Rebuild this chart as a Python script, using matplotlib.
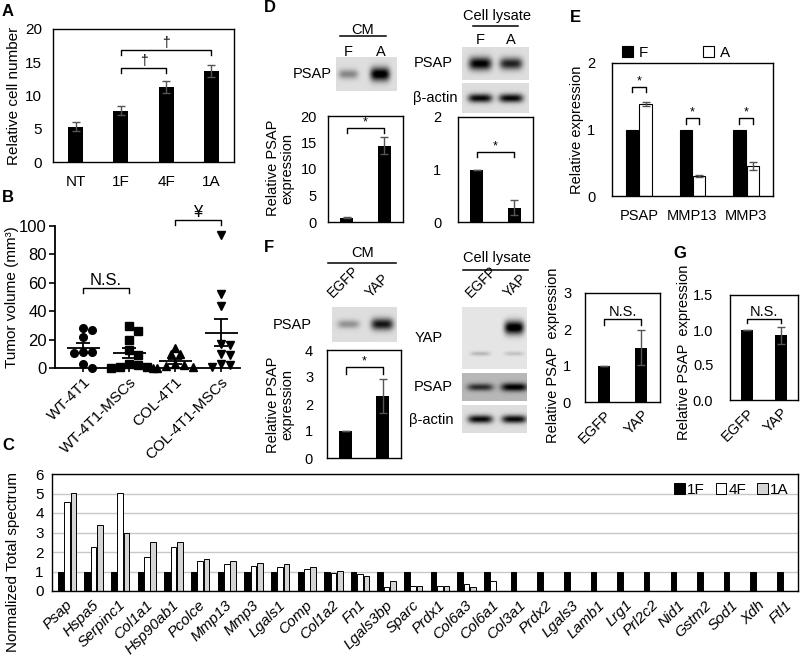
import numpy as np
import matplotlib
matplotlib.use('Agg')
import matplotlib.pyplot as plt
from matplotlib.lines import Line2D
from matplotlib.patches import Patch

plt.rcParams['font.family'] = ['Liberation Sans', 'DejaVu Sans']
plt.rcParams['font.size'] = 10

# ---------------- data ----------------
A_cats = ['NT', '1F', '4F', '1A']
A_vals = [5.3, 7.7, 11.3, 13.7]
A_err = [0.65, 0.65, 0.9, 0.85]

B_groups = ['WT-4T1', 'WT-4T1-MSCs', 'COL-4T1', 'COL-4T1-MSCs']
B_wt = [28, 27, 22, 11.5, 11, 10.5, 2.5, 0.3]
B_wt_msc = [29.5, 26, 20, 13, 9.5, 3, 2, 1, 0.5, 0.3]
B_col = [14, 10, 10, 3, 2, 1.5, 0.5, 0.3, 0.2]
B_col_msc = [94, 52, 44, 17, 16, 10, 9, 3, 2, 0.5]

C_genes = ['Psap', 'Hspa5', 'Serpinc1', 'Col1a1', 'Hsp90ab1', 'Pcolce', 'Mmp13', 'Mmp3',
           'Lgals1', 'Comp', 'Col1a2', 'Fn1', 'Lgals3bp', 'Sparc', 'Prdx1', 'Col6a3',
           'Col6a1', 'Col3a1', 'Prdx2', 'Lgals3', 'Lamb1', 'Lrg1', 'Prl2c2', 'Nid1',
           'Gstm2', 'Sod1', 'Xdh', 'Ftl1']
C_1F = [1, 1, 1, 1, 1, 1, 1, 1, 1, 1, 1, 1, 1, 1, 1, 1, 1, 1, 1, 1, 1, 1, 1, 1, 1, 1, 1, 1]
C_4F = [4.56, 2.28, 5.03, 1.72, 2.28, 1.54, 1.41, 1.3, 1.22, 1.15, 0.91, 0.86, 0.22, 0.26,
        0.24, 0.34, 0.5, 0, 0, 0, 0, 0, 0, 0, 0, 0, 0, 0]
C_1A = [5.03, 3.36, 3.0, 2.5, 2.5, 1.66, 1.54, 1.42, 1.36, 1.25, 1.01, 0.75, 0.51, 0.26,
        0.24, 0.2, 0, 0, 0, 0, 0, 0, 0, 0, 0, 0, 0, 0]

D_cats = ['F', 'A']
D_cm_vals = [0.82, 14.4]
D_cm_err = [0.05, 1.6]
D_lys_vals = [1.0, 0.27]
D_lys_err = [0.0, 0.14]

E_genes = ['PSAP', 'MMP13', 'MMP3']
E_F = [1.0, 1.0, 1.0]
E_F_err = [0.0, 0.0, 0.0]
E_A = [1.38, 0.3, 0.45]
E_A_err = [0.03, 0.01, 0.06]

F_cats = ['EGFP', 'YAP']
F_cm_vals = [1.0, 2.29]
F_cm_err = [0.0, 0.63]
F_lys_vals = [1.0, 1.5]
F_lys_err = [0.0, 0.47]
G_vals = [1.0, 0.925]
G_err = [0.0, 0.12]

# western blot band intensities (0 = no band, 1 = strongest)
blot_D_cm_psap = [0.35, 0.95]
blot_D_lys_psap = [0.9, 0.75]
blot_D_lys_actin = [0.85, 0.85]
blot_F_cm_psap = [0.3, 0.8]
blot_F_lys_yap = [0.0, 1.0]
blot_F_lys_yap_low = [0.18, 0.14]
blot_F_lys_psap = [0.55, 0.75]
blot_F_lys_actin = [0.85, 0.85]

# ---------------- figure ----------------
W, H = 800, 657
fig = plt.figure(figsize=(W / 100, H / 100), dpi=100)


def ax_px(x0, y0, x1, y1):
    return fig.add_axes([x0 / W, 1 - y1 / H, (x1 - x0) / W, (y1 - y0) / H])


def ftext(x, y, s, **kw):
    return fig.text(x / W, 1 - y / H, s, **kw)


def fline(x0, x1, y):
    fig.add_artist(Line2D([x0 / W, x1 / W], [1 - y / H, 1 - y / H], color='black', lw=1.1,
                          transform=fig.transFigure))


def box(ax, pad=6, fs=10):
    for s in ax.spines.values():
        s.set_linewidth(1.0)
        s.set_color('black')
    ax.tick_params(axis='both', length=0, labelsize=fs)
    ax.tick_params(axis='y', pad=pad)


def bracket(ax, x0, x1, y, drop, text, fs=9, clip=False):
    ax.plot([x0, x0, x1, x1], [y - drop, y, y, y - drop], color='black', lw=1, clip_on=clip)
    ax.text((x0 + x1) / 2, y, text, ha='center', va='bottom', fontsize=fs, clip_on=clip)


ekw = dict(ecolor='#555555', capsize=3, elinewidth=1, capthick=1)


def panel_letter(x, y, s):
    ftext(x, y, s, fontsize=12, fontweight='bold', ha='left', va='center')


def blot(x0, y0, x1, y1, rows, bg=0.87, bw=0.17, band_x=(0.25, 0.75)):
    ax = ax_px(x0, y0, x1, y1)
    h = int((y1 - y0) * 3)
    w = int((x1 - x0) * 3)
    yy, xx = np.mgrid[0:h, 0:w]
    xx = xx / w
    yy = yy / h
    img = np.full((h, w), bg)
    for by, intens, bh in rows:
        for cx, a in zip(band_x, intens):
            prof = np.exp(-((xx - cx) / bw) ** 4) * np.exp(-((yy - by) / (bh * (0.6 + 0.6 * a))) ** 2)
            img = img - a * prof
    img = np.clip(img, 0, 1)
    ax.imshow(img, cmap='gray', vmin=0, vmax=1, aspect='auto', interpolation='bilinear',
              extent=[0, 1, 1, 0])
    ax.set_axis_off()
    return ax


# ---------------- A ----------------
panel_letter(2, 12, 'A')
axA = ax_px(53, 29, 234, 162)
axA.bar(range(len(A_cats)), A_vals, width=0.33, color='black', yerr=A_err, error_kw=ekw)
axA.set_xlim(-0.5, 3.5)
axA.set_ylim(0, 20)
axA.set_yticks([0, 5, 10, 15, 20])
axA.set_xticks(range(len(A_cats)))
axA.set_xticklabels(A_cats)
box(axA, pad=8, fs=11)
axA.tick_params(axis='x', pad=9)
bracket(axA, 1, 2, 14.1, 0.75, '†', fs=10)
bracket(axA, 1, 3, 16.85, 0.75, '†', fs=10)
ftext(14, 96, 'Relative cell number', rotation=90, ha='center', va='center', fontsize=11)

# ---------------- B ----------------
panel_letter(2, 198, 'B')
axB = ax_px(55, 226, 240, 368)
axB.set_xlim(-0.61, 3.41)
axB.set_ylim(0, 100)
for s in ['top', 'right']:
    axB.spines[s].set_visible(False)
axB.spines['left'].set_linewidth(1.3)
axB.spines['bottom'].set_linewidth(1.3)
axB.set_yticks([0, 20, 40, 60, 80, 100])
axB.set_xticks(range(4))
axB.set_xticklabels(B_groups, rotation=45, ha='right', rotation_mode='anchor')
axB.tick_params(axis='y', length=4, width=1.2, labelsize=12, pad=2)
axB.tick_params(axis='x', length=3, width=1.2, labelsize=11, pad=2)
ftext(12, 297, 'Tumor volume (mm³)', rotation=90, ha='center', va='center', fontsize=11)


def swarm(vals, px_y=1.42, cat_px=46.0, d=7.0):
    placed = []
    res = np.zeros(len(vals))
    for idx in np.argsort(vals)[::-1]:
        y = vals[idx] * px_y
        x = 0.0
        for k in [0, 1, -1, 2, -2, 3, -3, 4, -4, 5, -5]:
            x = k * 4.5
            if all((x - px) ** 2 + (y - py) ** 2 >= d ** 2 for px, py in placed):
                break
        placed.append((x, y))
        res[idx] = x / cat_px
    return res


for i, (vals, mk) in enumerate(zip([B_wt, B_wt_msc, B_col, B_col_msc], ['o', 's', '^', 'v'])):
    v = np.array(vals, dtype=float)
    off = swarm(v)
    axB.plot(i + off, v, linestyle='none', marker=mk, color='black', ms=5.5, clip_on=False)
    m = v.mean()
    sem = v.std(ddof=1) / np.sqrt(len(v))
    axB.hlines(m, i - 0.36, i + 0.36, color='black', lw=1.3, clip_on=False)
    axB.vlines(i, m - sem, m + sem, color='black', lw=1.3, clip_on=False)
    axB.hlines([m - sem, m + sem], i - 0.16, i + 0.16, color='black', lw=1.3, clip_on=False)
bracket(axB, 0, 1, 56.5, 4, 'N.S.', fs=12)
bracket(axB, 2, 3, 104.5, 4, '¥', fs=12)

# ---------------- C ----------------
panel_letter(2, 445, 'C')
axC = ax_px(52, 474, 798, 591)
xC = np.arange(len(C_genes))
axC.bar(xC - 0.18, C_1F, width=0.21, color='black', edgecolor='black', lw=0.7, label='1F')
axC.bar(xC + 0.06, C_4F, width=0.21, color='white', edgecolor='black', lw=0.7, label='4F')
axC.bar(xC + 0.30, C_1A, width=0.21, color='#d4d4d4', edgecolor='black', lw=0.7, label='1A')
axC.set_xlim(-0.5, len(C_genes) - 0.5)
axC.set_ylim(0, 6)
axC.set_yticks(range(7))
axC.yaxis.grid(True, color='#c8c8c8', lw=1)
axC.set_axisbelow(True)
axC.set_xticks(xC)
axC.set_xticklabels(C_genes, rotation=45, ha='right', rotation_mode='anchor', style='italic',
                    fontsize=10)
box(axC, pad=6, fs=11)
axC.tick_params(axis='x', pad=5)
axC.legend(loc='upper right', ncol=3, frameon=False, handlelength=0.7, handleheight=0.7,
           handletextpad=0.15, columnspacing=0.7, fontsize=11, borderaxespad=0.2,
           bbox_to_anchor=(1.0, 1.0))
ftext(13, 562, 'Normalized Total spectrum', rotation=90, ha='center', va='center', fontsize=11)

# ---------------- D ----------------
panel_letter(264, 8, 'D')
ftext(363, 30, 'CM', ha='center', va='center', fontsize=10.5)
fline(340, 386, 36)
ftext(348, 52, 'F', ha='center', va='center', fontsize=10.5)
ftext(381, 52, 'A', ha='center', va='center', fontsize=10.5)
blot(336, 57, 397, 91, [(0.5, blot_D_cm_psap, 0.17)], band_x=(0.2, 0.72), bw=0.16)
ftext(332, 74, 'PSAP', ha='right', va='center', fontsize=10.5)

ftext(497, 16, 'Cell lysate', ha='center', va='center', fontsize=10.5)
fline(473, 518, 26)
ftext(480, 40, 'F', ha='center', va='center', fontsize=10.5)
ftext(511, 40, 'A', ha='center', va='center', fontsize=10.5)
blot(462, 47, 529, 80, [(0.5, blot_D_lys_psap, 0.17)], band_x=(0.27, 0.73), bw=0.17)
blot(462, 83, 529, 113, [(0.5, blot_D_lys_actin, 0.13)], band_x=(0.27, 0.73), bw=0.18)
ftext(453, 63, 'PSAP', ha='right', va='center', fontsize=10.5)
ftext(457, 98, 'β-actin', ha='right', va='center', fontsize=10.5)

axD1 = ax_px(328, 116, 403, 222)
axD1.bar(range(2), D_cm_vals, width=0.35, color='black', yerr=D_cm_err, error_kw=ekw)
axD1.set_xlim(-0.5, 1.5)
axD1.set_ylim(0, 20)
axD1.set_yticks([0, 5, 10, 15, 20])
axD1.set_xticks([])
box(axD1, pad=8, fs=10.5)
bracket(axD1, 0, 1, 17.7, 0.9, '*')
ftext(280, 168, 'Relative PSAP\nexpression', rotation=90, ha='center', va='center',
      fontsize=10.5, multialignment='center', linespacing=1.0)

axD2 = ax_px(458, 117, 533, 222)
axD2.bar(range(2), D_lys_vals, width=0.35, color='black', yerr=D_lys_err, error_kw=ekw)
axD2.set_xlim(-0.5, 1.5)
axD2.set_ylim(0, 2)
axD2.set_yticks([0, 1, 2])
axD2.set_xticks([])
box(axD2, pad=12, fs=10.5)
bracket(axD2, 0, 1, 1.33, 0.09, '*')

# ---------------- E ----------------
panel_letter(570, 17, 'E')
axE = ax_px(612, 63, 773, 196)
xE = np.arange(len(E_genes))
axE.bar(xE - 0.125, E_F, width=0.23, color='black', edgecolor='black', lw=0.8, label='F')
axE.bar(xE + 0.125, E_A, width=0.23, color='white', edgecolor='black', lw=0.8, label='A',
        yerr=E_A_err, error_kw=ekw)
axE.set_xlim(-0.5, 2.5)
axE.set_ylim(0, 2)
axE.set_yticks([0, 1, 2])
axE.set_xticks(xE)
axE.set_xticklabels(E_genes)
box(axE, pad=12, fs=10.5)
axE.tick_params(axis='x', pad=9)
E_brk = [1.64, 1.17, 1.17]
for i in range(3):
    bracket(axE, i - 0.125, i + 0.125, E_brk[i], 0.08, '*')
axE.legend(loc='center', bbox_to_anchor=(0.40, 1.075), ncol=2, frameon=False,
           handlelength=0.7, handleheight=0.7, handletextpad=0.4, columnspacing=3.6,
           fontsize=11, borderaxespad=0)
ftext(577, 130, 'Relative expression', rotation=90, ha='center', va='center', fontsize=10.5)

# ---------------- F ----------------
panel_letter(264, 248, 'F')
ftext(363, 253, 'CM', ha='center', va='center', fontsize=10.5)
fline(328, 396, 263)
ftext(333, 298, 'EGFP', rotation=45, ha='left', va='baseline', rotation_mode='anchor', fontsize=10)
ftext(371, 298, 'YAP', rotation=45, ha='left', va='baseline', rotation_mode='anchor', fontsize=10)
blot(332, 307, 397, 342, [(0.5, blot_F_cm_psap, 0.15)], band_x=(0.25, 0.77), bw=0.17)
ftext(312, 325, 'PSAP', ha='right', va='center', fontsize=10.5)

ftext(497, 258, 'Cell lysate', ha='center', va='center', fontsize=10.5)
fline(463, 528, 270)
ftext(471, 298, 'EGFP', rotation=45, ha='left', va='baseline', rotation_mode='anchor', fontsize=10)
ftext(509, 298, 'YAP', rotation=45, ha='left', va='baseline', rotation_mode='anchor', fontsize=10)
blot(462, 307, 527, 369, [(0.33, blot_F_lys_yap, 0.09), (0.75, blot_F_lys_yap_low, 0.05)],
     band_x=(0.28, 0.8), bw=0.15, bg=0.9)
blot(462, 373, 527, 401, [(0.5, blot_F_lys_psap, 0.14)], band_x=(0.28, 0.8), bw=0.2, bg=0.72)
blot(462, 405, 527, 433, [(0.5, blot_F_lys_actin, 0.13)], band_x=(0.28, 0.8), bw=0.19)
ftext(443, 338, 'YAP', ha='right', va='center', fontsize=10.5)
ftext(453, 387, 'PSAP', ha='right', va='center', fontsize=10.5)
ftext(453, 420, 'β-actin', ha='right', va='center', fontsize=10.5)

axF1 = ax_px(327, 350, 401, 458)
axF1.bar(range(2), F_cm_vals, width=0.35, color='black', yerr=F_cm_err, error_kw=ekw)
axF1.set_xlim(-0.5, 1.5)
axF1.set_ylim(0, 4)
axF1.set_yticks([0, 1, 2, 3, 4])
axF1.set_xticks([])
box(axF1, pad=10, fs=10.5)
bracket(axF1, 0, 1, 3.37, 0.25, '*')
ftext(280, 405, 'Relative PSAP\nexpression', rotation=90, ha='center', va='center',
      fontsize=10.5, multialignment='center', linespacing=1.0)

axF2 = ax_px(585, 293, 660, 402)
axF2.bar(range(2), F_lys_vals, width=0.33, color='black', yerr=F_lys_err, error_kw=ekw)
axF2.set_xlim(-0.5, 1.5)
axF2.set_ylim(0, 3)
axF2.set_yticks([0, 1, 2, 3])
axF2.set_xticks(range(2))
axF2.set_xticklabels(F_cats, rotation=45, ha='right', rotation_mode='anchor')
box(axF2, pad=10, fs=10.5)
axF2.tick_params(axis='x', pad=4)
bracket(axF2, 0, 1, 2.28, 0.16, 'N.S.', fs=10.5)
ftext(553, 355, 'Relative PSAP  expression', rotation=90, ha='center', va='center', fontsize=10.5)

# ---------------- G ----------------
panel_letter(673, 253, 'G')
axG = ax_px(730, 295, 798, 400)
axG.bar(range(2), G_vals, width=0.36, color='black', yerr=G_err, error_kw=ekw)
axG.set_xlim(-0.5, 1.5)
axG.set_ylim(0, 1.5)
axG.set_yticks([0, 0.5, 1.0, 1.5])
axG.set_yticklabels(['0.0', '0.5', '1.0', '1.5'])
axG.set_xticks(range(2))
axG.set_xticklabels(F_cats, rotation=45, ha='right', rotation_mode='anchor')
box(axG, pad=12, fs=10.5)
axG.tick_params(axis='x', pad=4)
bracket(axG, 0, 1, 1.16, 0.06, 'N.S.', fs=10.5)
ftext(684, 352, 'Relative PSAP  expression', rotation=90, ha='center', va='center', fontsize=10.5)

fig.savefig('out.png', dpi=100)
